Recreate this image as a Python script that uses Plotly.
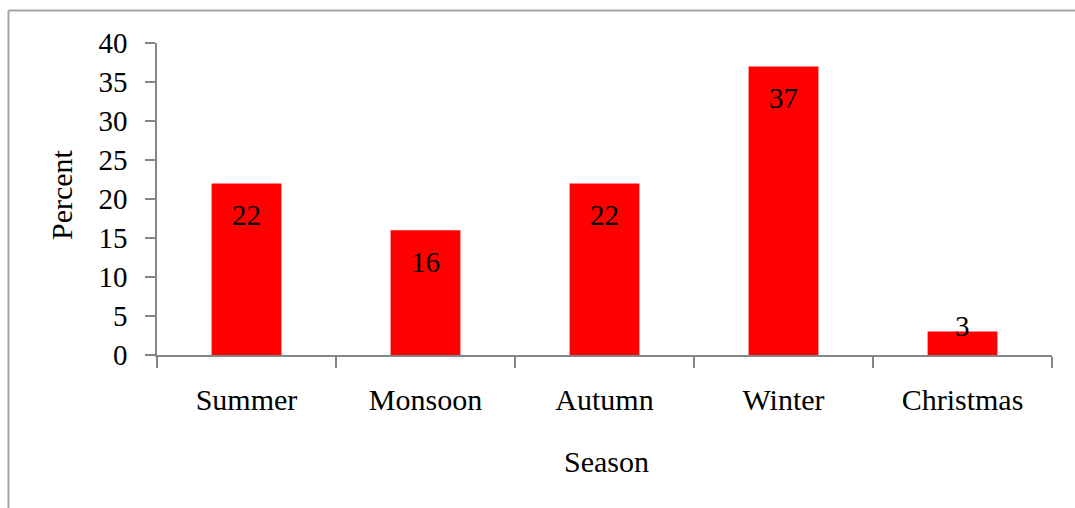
import plotly.graph_objects as go

# Share of respondents by preferred season
seasons = ["Summer", "Monsoon", "Autumn", "Winter", "Christmas"]
percent = [22, 16, 22, 37, 3]
y_ticks = [0, 5, 10, 15, 20, 25, 30, 35, 40]

W, H = 1075, 508
M_L, M_R, M_T, M_B = 157, 23, 43, 153
Y_MAX = 40
plot_w = W - M_L - M_R
plot_h = H - M_T - M_B
px_per_unit = plot_h / Y_MAX

FONT = "Liberation Serif, Times New Roman, serif"
FS = 30
AXIS_GREY = "#868686"

fig = go.Figure(
    go.Bar(
        x=seasons,
        y=percent,
        marker=dict(color="#ff0000", line=dict(width=0)),
        width=0.39,
        hoverinfo="x+y",
    )
)

# value labels just inside the top of each bar, kept above the baseline
label_offset_px = 32
label_half_h_px = 29.5
for s, v in zip(seasons, percent):
    y_center = max(v - label_offset_px / px_per_unit, label_half_h_px / px_per_unit)
    fig.add_annotation(
        x=s, y=y_center, text=str(v), showarrow=False,
        xanchor="center", yanchor="middle",
        font=dict(family=FONT, size=29, color="black"),
    )

# axis titles
fig.add_annotation(
    xref="paper", yref="paper",
    x=(61 - M_L) / plot_w, y=(M_T + plot_h - 195) / plot_h,
    text="Percent", textangle=-90, showarrow=False,
    xanchor="center", yanchor="middle",
    font=dict(family=FONT, size=FS, color="black"),
)
fig.add_annotation(
    xref="paper", yref="paper",
    x=(606 - M_L) / plot_w, y=(M_T + plot_h - 461) / plot_h,
    text="Season", showarrow=False,
    xanchor="center", yanchor="middle",
    font=dict(family=FONT, size=FS, color="black"),
)

# chart frame (left and top edges)
frame_x = (8.5 - M_L) / plot_w
frame_y = (M_T + plot_h - 10.5) / plot_h
fig.add_shape(type="line", xref="paper", yref="paper",
              x0=frame_x, x1=frame_x, y0=frame_y, y1=(M_T + plot_h - H - 5) / plot_h,
              line=dict(color="#a6a6a6", width=2))
fig.add_shape(type="line", xref="paper", yref="paper",
              x0=frame_x, x1=(W + 5 - M_L) / plot_w, y0=frame_y, y1=frame_y,
              line=dict(color="#a6a6a6", width=2))

fig.update_layout(
    width=W, height=H,
    margin=dict(l=M_L, r=M_R, t=M_T, b=M_B, pad=0),
    paper_bgcolor="white", plot_bgcolor="white",
    showlegend=False,
    font=dict(family=FONT, size=FS, color="black"),
    bargap=0.61,
)
fig.update_xaxes(
    type="category",
    showline=True, linecolor=AXIS_GREY, linewidth=1.5,
    ticks="outside", tickson="boundaries", ticklen=11, tickcolor=AXIS_GREY, tickwidth=1.5,
    ticklabelstandoff=17,
    showgrid=False, zeroline=False,
    tickfont=dict(family=FONT, size=FS, color="black"),
)
fig.update_yaxes(
    range=[0, Y_MAX],
    tickvals=y_ticks, ticktext=[str(t) for t in y_ticks],
    showline=True, linecolor=AXIS_GREY, linewidth=1.5,
    ticks="outside", ticklen=10, tickcolor=AXIS_GREY, tickwidth=1.5,
    ticklabelstandoff=12,
    showgrid=False, zeroline=False,
    tickfont=dict(family=FONT, size=29, color="black"),
)

fig.write_html("out.html")
